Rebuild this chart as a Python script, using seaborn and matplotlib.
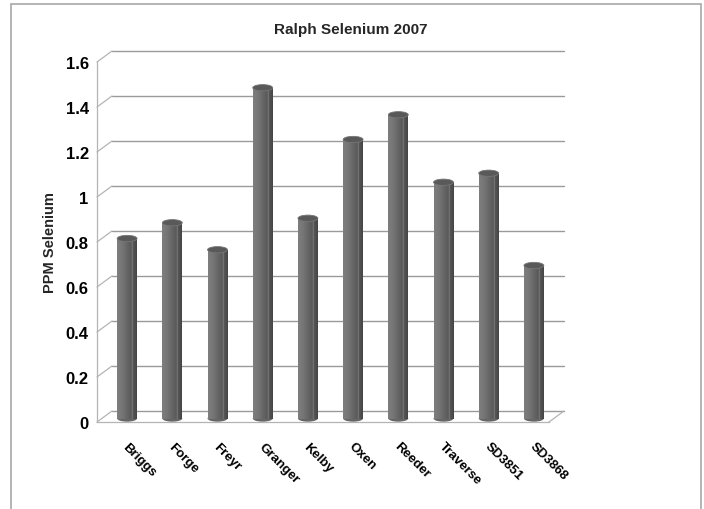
import numpy as np
import pandas as pd
import matplotlib
matplotlib.use("Agg")
import matplotlib.pyplot as plt
import matplotlib.transforms as mtransforms
from matplotlib.colors import LinearSegmentedColormap
from matplotlib.patches import Ellipse, Rectangle
import seaborn as sns

# ---- data ----
categories = ["Briggs", "Forge", "Freyr", "Granger", "Kelby", "Oxen",
              "Reeder", "Traverse", "SD3851", "SD3868"]
selenium_ppm = [0.80, 0.87, 0.75, 1.47, 0.89, 1.24, 1.35, 1.05, 1.09, 0.68]
y_ticks = [0, 0.2, 0.4, 0.6, 0.8, 1.0, 1.2, 1.4, 1.6]
y_tick_labels = ["0", "0.2", "0.4", "0.6", "0.8", "1", "1.2", "1.4", "1.6"]
title = "Ralph Selenium 2007"
y_label = "PPM Selenium"

df = pd.DataFrame({"variety": categories, "ppm": selenium_ppm})

sns.set_theme(style="white")
plt.rcParams["font.family"] = ["Liberation Sans", "DejaVu Sans"]

DPI = 100
fig = plt.figure(figsize=(7.04, 5.10), dpi=DPI)
ax = fig.add_axes([97 / 704, 1 - 423 / 510, (549 - 97) / 704, (423 - 63) / 510])
ax.set_facecolor("none")

grid_c = "#9a9a9a"
axis_c = "#b4b4b4"

sns.barplot(data=df, x="variety", y="ppm", color="#666666", width=0.44,
            ax=ax, saturation=1, zorder=3)

ax.set_xlim(-0.5, len(categories) - 0.5)
ax.set_ylim(0, 1.6)
x0, x1 = ax.get_xlim()

back = mtransforms.ScaledTranslation(0.15, 0.11, fig.dpi_scale_trans)
bar_off = mtransforms.ScaledTranslation(0.075, 0.035, fig.dpi_scale_trans)

# back wall gridlines + perspective diagonals
for t in y_ticks:
    ax.plot([x0, x1], [t, t], color=grid_c, lw=1.0, transform=ax.transData + back,
            clip_on=False, zorder=1)
    ax.annotate("", xy=(x0, t), xytext=(15, 11), textcoords="offset pixels",
                arrowprops=dict(arrowstyle="-", color=axis_c, lw=0.9,
                                shrinkA=0, shrinkB=0), annotation_clip=False)
ax.annotate("", xy=(x1, 0), xytext=(15, 11), textcoords="offset pixels",
            arrowprops=dict(arrowstyle="-", color=axis_c, lw=0.9,
                            shrinkA=0, shrinkB=0), annotation_clip=False)

# cylinder shading
cmap = LinearSegmentedColormap.from_list(
    "cyl", [(0.0, "#7e7e7e"), (0.25, "#767676"), (0.6, "#606060"),
            (0.74, "#575757"), (0.77, "#969696"), (0.8, "#575757"),
            (1.0, "#454545")])
grad = np.linspace(0, 1, 64).reshape(1, -1)
cap_h = 0.028
for p in list(ax.patches):
    bx, bw, bh = p.get_x(), p.get_width(), p.get_height()
    p.set_transform(ax.transData + bar_off)
    p.set_clip_on(False)
    p.set_edgecolor("none")
    ax.imshow(grad, cmap=cmap, extent=(bx, bx + bw, 0, bh), aspect="auto",
              transform=ax.transData + bar_off, zorder=4, clip_on=False,
              interpolation="bilinear")
    ax.add_patch(Ellipse((bx + bw / 2, 0), bw, cap_h, facecolor="#666666",
                         edgecolor="none", transform=ax.transData + bar_off,
                         zorder=3, clip_on=False))
    ax.add_patch(Ellipse((bx + bw / 2, bh), bw, cap_h, facecolor="#595959",
                         edgecolor="#767676", lw=0.6,
                         transform=ax.transData + bar_off, zorder=5,
                         clip_on=False))

ax.set_xlim(x0, x1)
ax.set_ylim(0, 1.6)

# spines / ticks
for s in ["top", "right"]:
    ax.spines[s].set_visible(False)
for s in ["left", "bottom"]:
    ax.spines[s].set_color(axis_c)
    ax.spines[s].set_linewidth(0.9)

ax.set_yticks(y_ticks)
ax.set_yticklabels(y_tick_labels, fontsize=12, fontweight="bold", color="black")
ax.tick_params(axis="y", direction="out", length=4, color=axis_c, pad=2)

ax.set_xticks(range(len(categories)))
ax.set_xticklabels(categories, fontsize=9.5, fontweight="bold", rotation=-45,
                   ha="left", va="top", color="black")
ax.set_xticks(np.arange(-0.5, len(categories), 1.0), minor=True)
ax.tick_params(axis="x", which="major", length=0, pad=13)
ax.tick_params(axis="x", which="minor", direction="out", length=5, color=axis_c)
lab_off = mtransforms.ScaledTranslation(0.01, 0.0, fig.dpi_scale_trans)
for lab in ax.get_xticklabels():
    lab.set_transform(lab.get_transform() + lab_off)

ax.set_xlabel("")
ax.set_ylabel(y_label, fontsize=10.5, fontweight="bold", labelpad=3)
ax.yaxis.set_label_coords(-0.088, 0.5)
ax.grid(False)

fig.text(351 / 704, 1 - 30 / 510, title, ha="center", va="center",
         fontsize=11, fontweight="bold")

# outer chart frame
fig.patches.append(Rectangle((11 / 704, -0.05), (701 - 11) / 704, 1.05 - 5 / 510,
                             transform=fig.transFigure, fill=False,
                             edgecolor="#a8a8a8", lw=1.2, zorder=0))

fig.savefig("out.png", dpi=DPI)
